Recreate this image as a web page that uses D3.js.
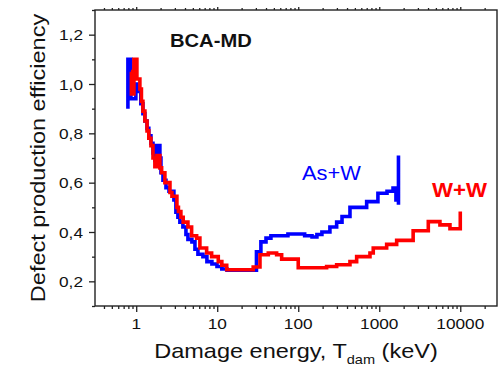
<!DOCTYPE html>
<html><head><meta charset="utf-8">
<script src="https://cdn.jsdelivr.net/npm/d3@7/dist/d3.min.js"></script>
<style>body{margin:0;background:#fff}svg{display:block}text{font-family:Arial,"Liberation Sans",sans-serif}</style>
</head><body><svg id="c" width="498" height="367"></svg>
<script>
// ---- data ----
const asEnergy = [0.79,0.79,0.86,0.99,1.08,1.14,1.21,1.28,1.36,1.43,1.52,1.61,1.70,1.77,1.96,2.02,2.14,2.33,2.54,2.92,3.09,3.27,3.46,3.77,4.11,4.35,4.87,5.31,5.78,6.66,7.46,8.60,9.93,11.4,13.2,30.5,34.6,40.0,46.0,74.6,120,148,170,196,246,298,347,435,699,963,1247,1479,1607,1726,1726];
const asEff    = [0.90,1.10,0.94,1.00,0.97,0.92,0.88,0.85,0.82,0.79,0.76,0.72,0.69,0.75,0.70,0.64,0.61,0.58,0.565,0.53,0.48,0.46,0.44,0.42,0.39,0.37,0.36,0.33,0.31,0.30,0.28,0.27,0.26,0.25,0.245,0.32,0.36,0.375,0.385,0.392,0.385,0.38,0.39,0.40,0.42,0.44,0.463,0.50,0.523,0.557,0.565,0.578,0.53,0.51,0.71];
const wwEnergy = [0.86,0.872,0.937,1.02,1.11,1.16,1.21,1.28,1.36,1.43,1.52,1.61,1.70,1.80,1.96,2.06,2.26,2.61,2.76,3.18,3.32,3.56,3.80,4.35,4.83,5.57,6.11,7.40,8.53,10.3,11.4,13.1,27.8,33.7,42.7,54.1,62.4,100,224,298,435,526,768,843,1234,1640,2620,4030,5610,7460,10000,10000];
const wwEff    = [1.05,0.96,1.10,1.02,0.98,0.93,0.89,0.85,0.81,0.78,0.75,0.70,0.665,0.71,0.66,0.64,0.60,0.56,0.545,0.50,0.483,0.46,0.44,0.42,0.385,0.375,0.335,0.315,0.30,0.28,0.265,0.247,0.258,0.308,0.315,0.308,0.29,0.255,0.26,0.267,0.28,0.30,0.315,0.335,0.35,0.366,0.405,0.442,0.429,0.413,0.413,0.483];
const xTicks = [1,10,100,1000,10000];
const xTickLabels = ["1","10","100","1000","10000"];
const yTicks = [0.2,0.4,0.6,0.8,1.0,1.2];
const yTickLabels = ["0,2","0,4","0,6","0,8","1,0","1,2"];
const yMinor = [0.1,0.3,0.5,0.7,0.9,1.1,1.3];
const seriesNames = ["As+W","W+W"];

// ---- chart ----
const svg = d3.select("#c");
const L=95,R=497,T=10,B=306;
const x = d3.scaleLog().domain([0.31,28400]).range([L,R]);
const y = d3.scaleLinear().domain([0.1,1.3]).range([B,T]);
const axisCol="#222";

const xMinor=[];
[0.1,1,10,100,1000,10000].forEach(d=>{for(let m=2;m<=9;m++){const v=d*m; if(v>=x.domain()[0]&&v<=x.domain()[1]) xMinor.push(v);}});

function styleAxis(g){g.select(".domain").remove();g.selectAll("line").attr("stroke",axisCol).attr("stroke-width",1.3);g.selectAll("text").remove();}
// bottom
svg.append("g").attr("transform",`translate(0,${B})`).call(d3.axisBottom(x).tickValues(xTicks).tickSize(6)).call(styleAxis);
svg.append("g").attr("transform",`translate(0,${B})`).call(d3.axisBottom(x).tickValues(xMinor).tickSize(3)).call(styleAxis);
// top
svg.append("g").attr("transform",`translate(0,${T})`).call(d3.axisTop(x).tickValues(xTicks).tickSize(3)).call(styleAxis);
svg.append("g").attr("transform",`translate(0,${T})`).call(d3.axisTop(x).tickValues(xMinor).tickSize(2)).call(styleAxis);
// left
svg.append("g").attr("transform",`translate(${L},0)`).call(d3.axisLeft(y).tickValues(yTicks).tickSize(6)).call(styleAxis);
svg.append("g").attr("transform",`translate(${L},0)`).call(d3.axisLeft(y).tickValues(yMinor).tickSize(3)).call(styleAxis);
// frame
svg.append("rect").attr("x",L).attr("y",T).attr("width",R-L).attr("height",B-T).attr("fill","none").attr("stroke",axisCol).attr("stroke-width",1.4);

// tick labels
xTicks.forEach((v,i)=>{
  svg.append("text").attr("transform",`translate(${x(v)},${B+23}) scale(1.15,1)`).attr("text-anchor","middle").attr("font-size",15).attr("fill","#111").text(xTickLabels[i]);
});
yTicks.forEach((v,i)=>{
  svg.append("text").attr("transform",`translate(${L-12},${y(v)+5.5}) scale(1.15,1)`).attr("text-anchor","end").attr("font-size",15).attr("fill","#111").text(yTickLabels[i]);
});

// lines
const line = d3.line().curve(d3.curveStepAfter).x(d=>x(d[0])).y(d=>y(d[1]));
const asData = asEnergy.map((e,i)=>[e,asEff[i]]);
const wwData = wwEnergy.map((e,i)=>[e,wwEff[i]]);
svg.append("path").datum(asData).attr("d",line).attr("fill","none").attr("stroke","#0000ff").attr("stroke-width",3.6);
svg.append("path").datum(wwData).attr("d",line).attr("fill","none").attr("stroke","#ff0000").attr("stroke-width",3.6);

// annotations
svg.append("text").attr("transform","translate(170,47) scale(1.12,1)").attr("font-size",18).attr("font-weight","bold").attr("fill","#111").text("BCA-MD");
svg.append("text").attr("transform","translate(302,180) scale(1.04,1)").attr("font-size",21).attr("fill","#0000ff").text(seriesNames[0]);
svg.append("text").attr("transform","translate(432,197) scale(1.06,1)").attr("font-size",21).attr("font-weight","bold").attr("fill","#ff0000").text(seriesNames[1]);

// axis titles
const xt = svg.append("text").attr("transform","translate(296,358) scale(1.12,1)").attr("text-anchor","middle").attr("font-size",21).attr("fill","#111");
xt.append("tspan").text("Damage energy, T");
xt.append("tspan").attr("font-size",13).attr("dy",6).text("dam");
xt.append("tspan").attr("dy",-6).text(" (keV)");
svg.append("text").attr("transform","translate(45,158) rotate(-90) scale(1.12,1)").attr("text-anchor","middle").attr("font-size",21).attr("fill","#111").text("Defect production efficiency");
</script></body></html>
